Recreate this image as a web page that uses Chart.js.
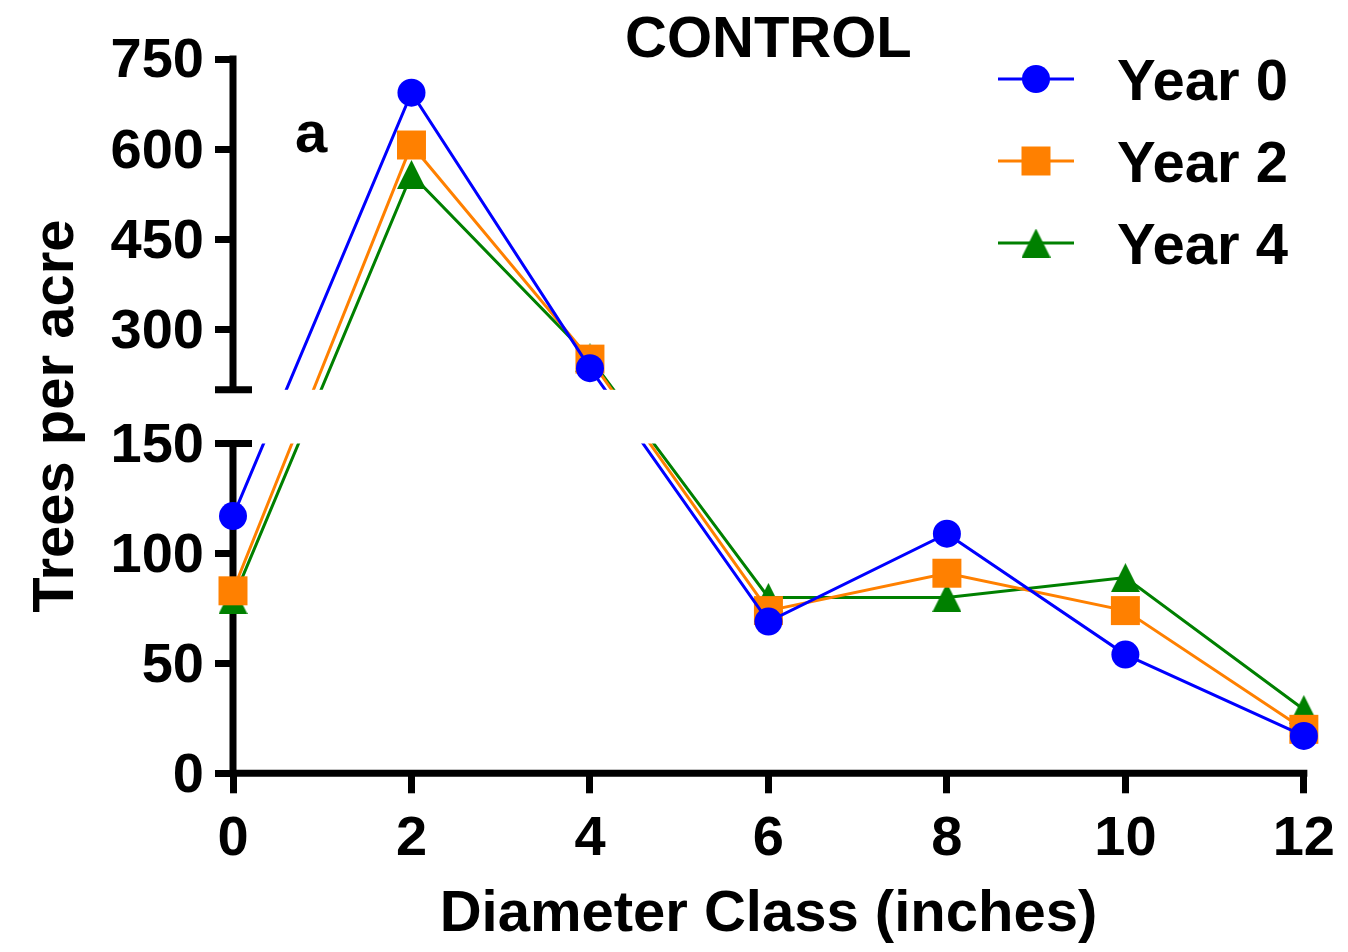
<!DOCTYPE html>
<html>
<head>
<meta charset="utf-8">
<title>CONTROL – Trees per acre by diameter class</title>
<script src="https://cdn.jsdelivr.net/npm/chart.js@4/dist/chart.umd.min.js"></script>
<style>
  html, body { margin: 0; padding: 0; background: #ffffff; }
  canvas { display: block; }
</style>
</head>
<body>
<canvas id="chart" width="1348" height="952"></canvas>
<script>
// ---- data ----------------------------------------------------------------
const diameterClasses = [0, 2, 4, 6, 8, 10, 12];          // inches
const year0 = [117, 694, 236, 69, 109, 54, 17];           // trees per acre
const year2 = [83, 607, 251, 74, 91, 74, 20];
const year4 = [79, 558, 253, 80, 80, 89, 29];
const seriesNames = ['Year 0', 'Year 2', 'Year 4'];
const yTickValues = [0, 50, 100, 150, 300, 450, 600, 750];
const xTickStep = 2;
const axisBreak = [150, 200];   // values skipped between the lower and upper axis segments
const titleText = 'CONTROL';
const panelLetter = 'a';
const xTitle = 'Diameter Class (inches)';
const yTitle = 'Trees per acre';

// ---- styling -------------------------------------------------------------
const FONT = '"Liberation Sans", Arial, Helvetica, sans-serif';
const COLORS = ['#0000FF', '#FF8000', '#008000'];
const AXIS_W = 7;
const LOWER_SHARE = 0.4617;   // share of axis height used by 0–150
const UPPER_START = 0.5369;   // where the 200–750 segment starts (share of axis height)

Chart.defaults.font.family = FONT;
Chart.defaults.color = '#000';

// triangle symbol (Prism-style, centred on its bounding box)
function makeTriangle(color, w, h) {
  const c = document.createElement('canvas');
  c.width = w; c.height = h;
  const g = c.getContext('2d');
  g.fillStyle = color;
  g.beginPath();
  g.moveTo(w / 2, 0);
  g.lineTo(w, h);
  g.lineTo(0, h);
  g.closePath();
  g.fill();
  return c;
}
const triangleSymbol = makeTriangle(COLORS[2], 29, 29);

// ---- a linear scale with a break between two segments --------------------
class BrokenLinearScale extends Chart.LinearScale {
  static id = 'brokenLinear';
  static defaults = {};
  toDecimal(v) {
    const [lo, hi] = axisBreak;
    if (v <= lo) return (v - this.min) / (lo - this.min) * LOWER_SHARE;
    if (v >= hi) return UPPER_START + (v - hi) / (this.max - hi) * (1 - UPPER_START);
    return LOWER_SHARE + (v - lo) / (hi - lo) * (UPPER_START - LOWER_SHARE);
  }
  getPixelForValue(v) {
    if (v === null || v === undefined) return NaN;
    return this.getPixelForDecimal(this.toDecimal(v));
  }
  getValueForPixel(p) {
    const d = this.getDecimalForPixel(p);
    const [lo, hi] = axisBreak;
    if (d <= LOWER_SHARE) return this.min + d / LOWER_SHARE * (lo - this.min);
    if (d >= UPPER_START) return hi + (d - UPPER_START) / (1 - UPPER_START) * (this.max - hi);
    return lo + (d - LOWER_SHARE) / (UPPER_START - LOWER_SHARE) * (hi - lo);
  }
}
Chart.register(BrokenLinearScale);

// ---- axis lines with the break marks, and the blank band across the gap --
const brokenAxisPlugin = {
  id: 'brokenAxis',
  beforeDatasetsDraw(chart) {
    const { ctx, chartArea: a, scales: { x, y } } = chart;
    const h = AXIS_W / 2;
    const yTop = y.getPixelForValue(y.max);
    const yBot = y.getPixelForValue(y.min);
    const yLo = y.getPixelForValue(axisBreak[0]);
    const yHi = y.getPixelForValue(axisBreak[1]);
    ctx.save();
    ctx.strokeStyle = '#000';
    ctx.lineWidth = AXIS_W;
    ctx.lineCap = 'butt';
    ctx.beginPath();
    // upper and lower y segments
    ctx.moveTo(a.left, yTop - h); ctx.lineTo(a.left, yHi + h);
    ctx.moveTo(a.left, yLo - h); ctx.lineTo(a.left, yBot + h);
    // caps at the break
    ctx.moveTo(a.left - 18, yHi); ctx.lineTo(a.left + 19, yHi);
    ctx.moveTo(a.left, yLo); ctx.lineTo(a.left + 19, yLo);
    // x axis line
    ctx.moveTo(a.left - h, a.bottom); ctx.lineTo(x.getPixelForValue(x.max) + h, a.bottom);
    ctx.stroke();
    ctx.restore();
  },
  afterDatasetsDraw(chart) {
    const { ctx, chartArea: a, scales: { y } } = chart;
    const yLo = y.getPixelForValue(axisBreak[0]);
    const yHi = y.getPixelForValue(axisBreak[1]);
    ctx.save();
    ctx.fillStyle = '#fff';
    ctx.fillRect(a.left + 22, yHi, chart.width, yLo - yHi);
    ctx.restore();
  }
};

// ---- legend (line + symbol + label) and panel letter ---------------------
const sideLegendPlugin = {
  id: 'sideLegend',
  afterDraw(chart, args, opts) {
    const ctx = chart.ctx;
    ctx.save();
    chart.data.datasets.forEach((ds, i) => {
      const cy = opts.top + i * opts.rowGap;
      const cx = (opts.lineStart + opts.lineEnd) / 2;
      ctx.strokeStyle = ds.borderColor;
      ctx.lineWidth = ds.borderWidth;
      ctx.beginPath();
      ctx.moveTo(opts.lineStart, cy);
      ctx.lineTo(opts.lineEnd, cy);
      ctx.stroke();
      ctx.fillStyle = ds.backgroundColor;
      const ps = ds.pointStyle;
      if (ps === 'circle') {
        ctx.beginPath();
        ctx.arc(cx, cy, ds.pointRadius, 0, Math.PI * 2);
        ctx.fill();
      } else if (ps === 'rect') {
        const s = ds.pointRadius * Math.SQRT1_2;
        ctx.fillRect(cx - s, cy - s, 2 * s, 2 * s);
      } else if (ps && ps.width) {
        ctx.drawImage(ps, cx - ps.width / 2, cy - ps.height / 2);
      }
      ctx.fillStyle = '#000';
      ctx.font = 'bold ' + opts.fontSize + 'px ' + FONT;
      ctx.textAlign = 'left';
      ctx.textBaseline = 'alphabetic';
      ctx.fillText(ds.label, opts.textX, cy + opts.baselineShift);
    });
    // panel letter
    ctx.font = 'bold 58px ' + FONT;
    ctx.fillStyle = '#000';
    ctx.textAlign = 'left';
    ctx.textBaseline = 'alphabetic';
    ctx.fillText(panelLetter, opts.letterX, opts.letterY);
    ctx.restore();
  }
};

// ---- chart ---------------------------------------------------------------
const seriesValues = [year0, year2, year4];
const pointStyles = ['circle', 'rect', triangleSymbol];
const pointRadii = [14, 20.5, 14.5];

const datasets = seriesNames.map((name, i) => ({
  label: name,
  data: diameterClasses.map((d, j) => ({ x: d, y: seriesValues[i][j] })),
  borderColor: COLORS[i],
  backgroundColor: COLORS[i],
  borderWidth: 3,
  pointStyle: pointStyles[i],
  pointRadius: pointRadii[i],
  pointHoverRadius: pointRadii[i],
  pointBorderWidth: 0,
  pointBackgroundColor: COLORS[i],
  tension: 0,
  clip: false
}));

new Chart(document.getElementById('chart'), {
  type: 'line',
  data: { datasets },
  plugins: [brokenAxisPlugin, sideLegendPlugin],
  options: {
    responsive: false,
    animation: false,
    events: [],
    layout: { padding: { left: 0, right: 43, top: 0, bottom: 0 } },
    plugins: {
      legend: { display: false },
      tooltip: { enabled: false },
      title: {
        display: true,
        text: titleText,
        fullSize: false,
        color: '#000',
        font: { family: FONT, size: 58, weight: 'bold', lineHeight: 0.638 },
        padding: { top: 22, bottom: 0 }
      },
      sideLegend: {
        top: 79, rowGap: 82, lineStart: 998, lineEnd: 1074,
        textX: 1117, baselineShift: 21, fontSize: 58,
        letterX: 295, letterY: 152
      }
    },
    scales: {
      x: {
        type: 'linear',
        min: diameterClasses[0],
        max: diameterClasses[diameterClasses.length - 1],
        afterFit: s => { s.height = 178.7; },
        border: { display: false },
        grid: { drawOnChartArea: false, drawTicks: true, tickLength: 20, tickWidth: AXIS_W, tickColor: '#000' },
        ticks: {
          stepSize: xTickStep, autoSkip: false, maxRotation: 0, padding: 13, color: '#000',
          font: { family: FONT, size: 56, weight: 'bold' },
          callback: v => String(v)
        },
        title: {
          display: true, text: xTitle, color: '#000',
          font: { family: FONT, size: 58, weight: 'bold' },
          padding: { top: 0, bottom: 2 }
        }
      },
      y: {
        type: 'brokenLinear',
        min: 0,
        max: 750,
        afterBuildTicks: s => { s.ticks = yTickValues.map(v => ({ value: v })); },
        afterFit: s => { s.width = 233; },
        border: { display: false },
        grid: { drawOnChartArea: false, drawTicks: true, tickLength: 18, tickWidth: AXIS_W, tickColor: '#000' },
        ticks: {
          autoSkip: false, padding: 11, labelOffset: 3, color: '#000',
          font: { family: FONT, size: 56, weight: 'bold' },
          callback: v => String(v)
        },
        title: {
          display: true, text: yTitle, color: '#000',
          font: { family: FONT, size: 58, weight: 'bold' },
          padding: { top: 22, bottom: 0 }
        }
      }
    }
  }
});
</script>
</body>
</html>
